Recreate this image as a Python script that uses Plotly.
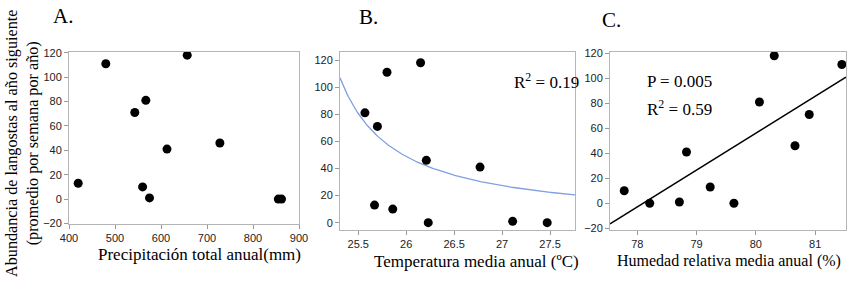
import numpy as np
import plotly.graph_objects as go

# ---------------- data ----------------
abundance_A = [13, 111, 71, 81, 10, 1, 41, 118, 46, 0, 0]
precip = [420, 480, 543, 567, 560, 575, 613, 657, 728, 855, 862]

abundance_B = [81, 13, 71, 111, 10, 118, 46, 0, 41, 1, 0]
temperature = [25.57, 25.67, 25.70, 25.80, 25.86, 26.15, 26.21, 26.23, 26.77, 27.11, 27.47]

abundance_C = [10, 0, 1, 41, 13, 0, 81, 118, 46, 71, 111]
humidity = [77.78, 78.21, 78.71, 78.83, 79.23, 79.63, 80.06, 80.31, 80.66, 80.90, 81.45]

# fitted model for panel B: y = a / (x - c)  (parameters)
fitB_a = 62.0
fitB_c = 24.73

xrange_A = [400, 900]
yrange_A = [-20.4, 120.6]
xrange_B = [25.31, 27.76]
yrange_B = [-5.4, 125.9]
xrange_C = [77.54, 81.52]
yrange_C = [-21.4, 121.0]

ticks_A_x = [400, 500, 600, 700, 800, 900]
ticks_B_x = [25.5, 26, 26.5, 27, 27.5]
ticks_B_xlabels = ["25.5", "26", "26.5", "27", "27.5"]
ticks_C_x = [78, 79, 80, 81]
ticks_y_A = [-20, 0, 20, 40, 60, 80, 100, 120]
ticks_y_B = [0, 20, 40, 60, 80, 100, 120]

SERIF = "Liberation Serif"
SANS = "Liberation Sans"
W, H = 850, 286

def px_x(p):
    return p / W

def px_y(p):
    return (H - p) / H

fig = go.Figure()

marker = dict(color="black", size=9)

fig.add_trace(go.Scatter(x=precip, y=abundance_A, mode="markers", marker=marker,
                         xaxis="x", yaxis="y", showlegend=False))

# curve B
xb = np.linspace(xrange_B[0], xrange_B[1], 200)
yb = fitB_a / (xb - fitB_c)
fig.add_trace(go.Scatter(x=xb, y=yb, mode="lines", line=dict(color="#7f9fe0", width=1.3),
                         xaxis="x2", yaxis="y2", showlegend=False))
fig.add_trace(go.Scatter(x=temperature, y=abundance_B, mode="markers", marker=marker,
                         xaxis="x2", yaxis="y2", showlegend=False))

# regression C
slope, intercept = np.polyfit(humidity, abundance_C, 1)
xc = np.array(xrange_C)
yc = slope * xc + intercept
fig.add_trace(go.Scatter(x=xc, y=yc, mode="lines", line=dict(color="black", width=1.6),
                         xaxis="x3", yaxis="y3", showlegend=False))
fig.add_trace(go.Scatter(x=humidity, y=abundance_C, mode="markers", marker=marker,
                         xaxis="x3", yaxis="y3", showlegend=False, cliponaxis=False))

axis_common = dict(showgrid=False, zeroline=False, showline=True, linecolor="#b5b5b5",
                   linewidth=1, mirror=True, ticks="outside", ticklen=4, tickcolor="#999999",
                   automargin=False,
                   tickfont=dict(family=SANS, size=11, color="#222222"))

fig.update_layout(
    width=W, height=H,
    margin=dict(l=0, r=0, t=0, b=0),
    paper_bgcolor="white", plot_bgcolor="white",
    xaxis=dict(domain=[px_x(69), px_x(299)], range=xrange_A, anchor="y",
               tickvals=ticks_A_x, **axis_common),
    yaxis=dict(domain=[px_y(224), px_y(52)], range=yrange_A, anchor="x",
               tickvals=ticks_y_A, **axis_common),
    xaxis2=dict(domain=[px_x(340), px_x(575)], range=xrange_B, anchor="y2",
                tickvals=ticks_B_x, ticktext=ticks_B_xlabels, **axis_common),
    yaxis2=dict(domain=[px_y(230), px_y(52)], range=yrange_B, anchor="x2",
                tickvals=ticks_y_B, **axis_common),
    xaxis3=dict(domain=[px_x(610), px_x(846)], range=xrange_C, anchor="y3",
                tickvals=ticks_C_x, **axis_common),
    yaxis3=dict(domain=[px_y(230), px_y(52)], range=yrange_C, anchor="x3",
                tickvals=ticks_y_A, **axis_common),
)

def ann(text, x, y, size=17, xanchor="center", yanchor="middle", angle=0, align="center"):
    fig.add_annotation(text=text, x=px_x(x), y=px_y(y), xref="paper", yref="paper",
                       showarrow=False, xanchor=xanchor, yanchor=yanchor, textangle=angle,
                       align=align, borderpad=0,
                       font=dict(family=SERIF, size=size, color="black"))

ann("A.", 52, 16, size=21, xanchor="left", align="left")
ann("B.", 358, 17, size=21, xanchor="left", align="left")
ann("C.", 601, 20, size=21, xanchor="left", align="left")

ann("Precipitación total anual(mm)", 199, 254)
ann("Temperatura media anual (ºC)", 476, 261)
ann("Humedad relativa media anual (%)", 729, 261, size=16)

ann("Abundancia de langostas al año siguiente<br>(promedio por semana por año)", 22, 144,
    size=16.2, angle=-90)

ann("R<sup>2</sup> = 0.19", 513, 81, xanchor="left", align="left")
ann("P = 0.005", 646, 81, xanchor="left", align="left")
ann("R<sup>2</sup> = 0.59", 646, 108, xanchor="left", align="left")

fig.write_html(
    "out.html",
    config={"displayModeBar": False},
    post_script="document.body.style.margin='0';document.body.style.overflow='hidden';",
)
